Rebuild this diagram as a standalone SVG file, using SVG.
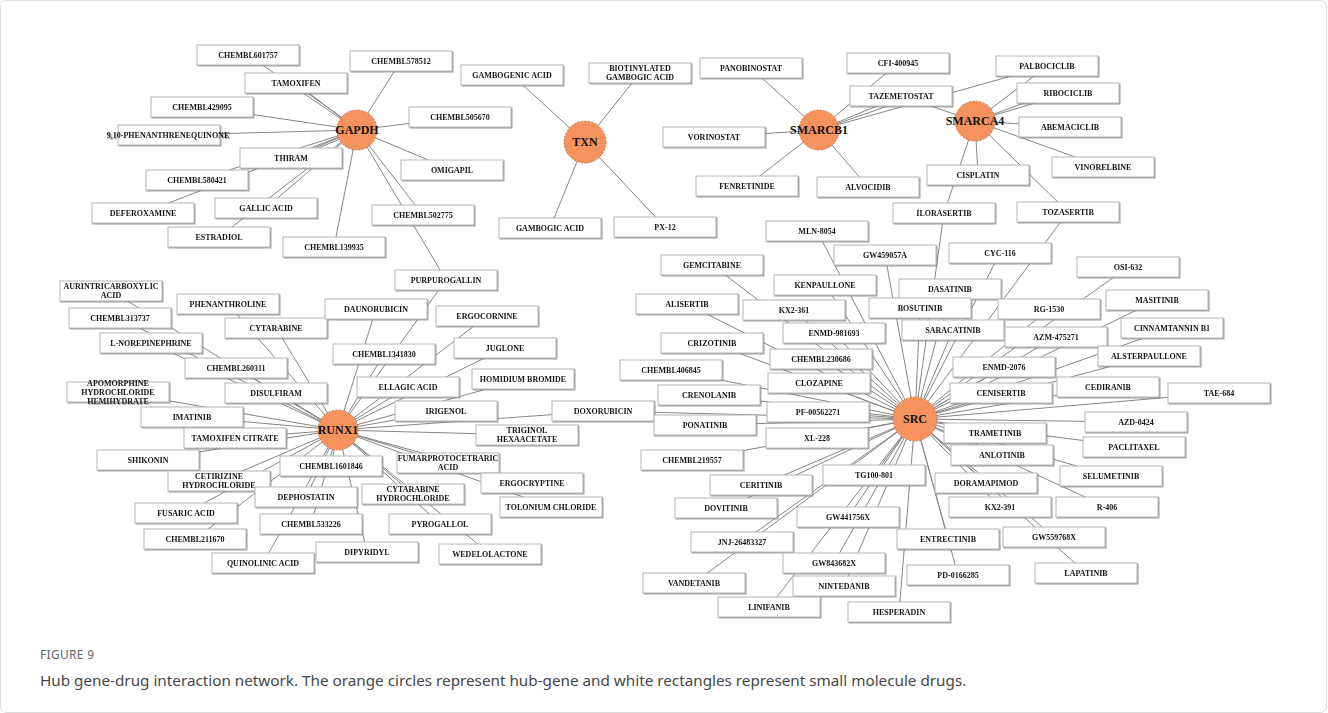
<svg xmlns="http://www.w3.org/2000/svg" width="1328" height="713" viewBox="0 0 1328 713">
<defs>
<style>
.d rect{fill:#fff;stroke:#b4b4b4;stroke-width:1}
.d text{font-family:"Liberation Serif","Times New Roman",serif;font-weight:bold;font-size:8px;fill:#151515;text-anchor:middle}
.h circle{fill:#F5925E;stroke:#b86a48;stroke-width:0.8;stroke-dasharray:2 1.5}
.h text{font-family:"Liberation Serif","Times New Roman",serif;font-weight:bold;font-size:12px;fill:#111;text-anchor:middle}
#edges line{stroke:#858585;stroke-width:1}
.cap1{font-family:"Noto Sans","Open Sans",sans-serif;font-size:12px;fill:#666;letter-spacing:0.3px}
.cap2{font-family:"Noto Sans","Open Sans",sans-serif;font-size:15.25px;fill:#474747}
</style>
<filter id="sh" x="-5%" y="-10%" width="115%" height="140%"><feDropShadow dx="1" dy="1" stdDeviation="0.4" flood-color="#777" flood-opacity="0.7"/></filter>
</defs>
<rect x="0.5" y="0.5" width="1326" height="712" rx="6" fill="#fff" stroke="#dcdcdc"/>
<g id="edges">
<line x1="357" y1="130" x2="248" y2="55"/><line x1="357" y1="130" x2="296" y2="83"/><line x1="357" y1="128" x2="293" y2="83"/>
<line x1="357" y1="130" x2="202" y2="107"/><line x1="357" y1="130" x2="169" y2="135"/>
<line x1="357" y1="130" x2="291" y2="158"/><line x1="357" y1="132" x2="294" y2="158"/><line x1="357" y1="130" x2="197" y2="180"/>
<line x1="357" y1="130" x2="143" y2="213"/><line x1="357" y1="130" x2="266" y2="208"/><line x1="357" y1="130" x2="219" y2="237"/>
<line x1="357" y1="130" x2="334" y2="247"/><line x1="357" y1="130" x2="401" y2="61"/><line x1="357" y1="130" x2="460" y2="117"/>
<line x1="357" y1="130" x2="452" y2="170"/><line x1="357" y1="130" x2="423" y2="215"/><line x1="357" y1="130" x2="446" y2="280"/>
<line x1="585" y1="142" x2="512" y2="75"/><line x1="585" y1="142" x2="640" y2="73"/><line x1="585" y1="142" x2="550" y2="228"/><line x1="585" y1="142" x2="665" y2="227"/>
<line x1="819" y1="130" x2="751" y2="68"/><line x1="819" y1="130" x2="898" y2="63"/><line x1="819" y1="130" x2="901" y2="96"/><line x1="819" y1="130" x2="905" y2="100"/>
<line x1="819" y1="130" x2="714" y2="137"/><line x1="819" y1="130" x2="747" y2="186"/><line x1="819" y1="130" x2="868" y2="187"/><line x1="819" y1="130" x2="1047" y2="66"/>
<line x1="975" y1="121" x2="1047" y2="66"/><line x1="975" y1="121" x2="1068" y2="93"/><line x1="975" y1="121" x2="1060" y2="90"/><line x1="975" y1="121" x2="1070" y2="127"/>
<line x1="975" y1="121" x2="1103" y2="167"/><line x1="975" y1="121" x2="978" y2="175"/><line x1="975" y1="121" x2="944" y2="213"/><line x1="975" y1="121" x2="1068" y2="212"/><line x1="975" y1="121" x2="901" y2="96"/>
<line x1="915" y1="419" x2="817" y2="231"/><line x1="915" y1="419" x2="885" y2="255"/><line x1="915" y1="419" x2="1000" y2="253"/><line x1="915" y1="419" x2="1128" y2="267"/>
<line x1="915" y1="419" x2="712" y2="265"/><line x1="915" y1="419" x2="825" y2="285"/><line x1="915" y1="419" x2="950" y2="289"/><line x1="915" y1="419" x2="1157" y2="300"/>
<line x1="915" y1="419" x2="687" y2="304"/><line x1="915" y1="419" x2="794" y2="310"/><line x1="915" y1="419" x2="920" y2="308"/><line x1="915" y1="419" x2="1049" y2="309"/>
<line x1="915" y1="419" x2="1172" y2="328"/><line x1="915" y1="419" x2="834" y2="333"/><line x1="915" y1="419" x2="953" y2="330"/><line x1="915" y1="419" x2="1056" y2="337"/>
<line x1="915" y1="419" x2="712" y2="343"/><line x1="915" y1="419" x2="1149" y2="356"/><line x1="915" y1="419" x2="821" y2="359"/><line x1="915" y1="419" x2="1004" y2="367"/>
<line x1="915" y1="419" x2="671" y2="370"/><line x1="915" y1="419" x2="819" y2="383"/><line x1="915" y1="419" x2="1108" y2="387"/><line x1="915" y1="419" x2="1001" y2="393"/>
<line x1="915" y1="419" x2="1219" y2="393"/><line x1="915" y1="419" x2="709" y2="395"/><line x1="915" y1="419" x2="818" y2="412"/><line x1="915" y1="419" x2="603" y2="411"/>
<line x1="915" y1="419" x2="1136" y2="422"/><line x1="915" y1="419" x2="705" y2="425"/><line x1="915" y1="419" x2="995" y2="433"/><line x1="915" y1="419" x2="817" y2="438"/>
<line x1="915" y1="419" x2="1134" y2="447"/><line x1="915" y1="419" x2="1002" y2="455"/><line x1="915" y1="419" x2="692" y2="460"/><line x1="915" y1="419" x2="874" y2="475"/>
<line x1="915" y1="419" x2="1111" y2="476"/><line x1="915" y1="419" x2="986" y2="483"/><line x1="915" y1="419" x2="761" y2="485"/><line x1="915" y1="419" x2="1000" y2="507"/>
<line x1="915" y1="419" x2="1107" y2="507"/><line x1="915" y1="419" x2="726" y2="508"/><line x1="915" y1="419" x2="848" y2="517"/><line x1="915" y1="419" x2="1054" y2="537"/>
<line x1="915" y1="419" x2="948" y2="539"/><line x1="915" y1="419" x2="742" y2="542"/><line x1="915" y1="419" x2="834" y2="563"/><line x1="915" y1="419" x2="958" y2="575"/>
<line x1="915" y1="419" x2="1086" y2="573"/><line x1="915" y1="419" x2="694" y2="583"/><line x1="915" y1="419" x2="844" y2="586"/><line x1="915" y1="419" x2="769" y2="607"/>
<line x1="915" y1="419" x2="899" y2="612"/><line x1="915" y1="419" x2="944" y2="213"/><line x1="915" y1="419" x2="1068" y2="212"/>
<line x1="338" y1="430" x2="111" y2="291"/><line x1="338" y1="430" x2="228" y2="304"/><line x1="338" y1="430" x2="120" y2="318"/><line x1="338" y1="430" x2="276" y2="328"/>
<line x1="338" y1="430" x2="376" y2="309"/><line x1="338" y1="430" x2="151" y2="343"/><line x1="338" y1="430" x2="384" y2="354"/><line x1="338" y1="430" x2="236" y2="368"/>
<line x1="338" y1="430" x2="487" y2="316"/><line x1="338" y1="430" x2="505" y2="348"/><line x1="338" y1="430" x2="408" y2="387"/><line x1="338" y1="430" x2="523" y2="379"/>
<line x1="338" y1="430" x2="118" y2="392"/><line x1="338" y1="430" x2="276" y2="393"/><line x1="338" y1="430" x2="192" y2="417"/><line x1="338" y1="430" x2="446" y2="411"/>
<line x1="338" y1="430" x2="527" y2="435"/><line x1="338" y1="430" x2="235" y2="438"/><line x1="338" y1="430" x2="148" y2="460"/><line x1="338" y1="430" x2="331" y2="466"/>
<line x1="338" y1="430" x2="448" y2="463"/><line x1="338" y1="430" x2="219" y2="481"/><line x1="338" y1="430" x2="532" y2="483"/><line x1="338" y1="430" x2="413" y2="494"/>
<line x1="338" y1="430" x2="306" y2="497"/><line x1="338" y1="430" x2="551" y2="507"/><line x1="338" y1="430" x2="186" y2="513"/><line x1="338" y1="430" x2="311" y2="524"/>
<line x1="338" y1="430" x2="440" y2="524"/><line x1="338" y1="430" x2="195" y2="539"/><line x1="338" y1="430" x2="367" y2="552"/><line x1="338" y1="430" x2="263" y2="563"/>
<line x1="338" y1="430" x2="490" y2="554"/><line x1="338" y1="430" x2="446" y2="280"/><line x1="338" y1="430" x2="603" y2="411"/>
</g>
<g id="drugs" filter="url(#sh)">
<g id="n-chembl601757" class="d"><rect x="197" y="45" width="102" height="20"/><text x="248" y="58">CHEMBL601757</text></g>
<g id="n-tamoxifen" class="d"><rect x="245" y="73" width="102" height="20"/><text x="296" y="86">TAMOXIFEN</text></g>
<g id="n-chembl429095" class="d"><rect x="151" y="97" width="102" height="20"/><text x="202" y="110">CHEMBL429095</text></g>
<g id="n-phenanthrenequinone" class="d"><rect x="118" y="125" width="102" height="20"/><text x="168" y="138">9,10-PHENANTHRENEQUINONE</text></g>
<g id="n-thiram" class="d"><rect x="240" y="148" width="102" height="20"/><text x="291" y="161">THIRAM</text></g>
<g id="n-chembl580421" class="d"><rect x="146" y="170" width="102" height="20"/><text x="197" y="183">CHEMBL580421</text></g>
<g id="n-deferoxamine" class="d"><rect x="92" y="203" width="102" height="20"/><text x="143" y="216">DEFEROXAMINE</text></g>
<g id="n-gallic-acid" class="d"><rect x="215" y="198" width="102" height="20"/><text x="266" y="211">GALLIC ACID</text></g>
<g id="n-estradiol" class="d"><rect x="168" y="227" width="102" height="20"/><text x="219" y="240">ESTRADIOL</text></g>
<g id="n-chembl139935" class="d"><rect x="283" y="237" width="102" height="20"/><text x="334" y="250">CHEMBL139935</text></g>
<g id="n-chembl578512" class="d"><rect x="350" y="51" width="102" height="20"/><text x="401" y="64">CHEMBL578512</text></g>
<g id="n-chembl505670" class="d"><rect x="409" y="107" width="102" height="20"/><text x="460" y="120">CHEMBL505670</text></g>
<g id="n-omigapil" class="d"><rect x="401" y="160" width="102" height="20"/><text x="452" y="173">OMIGAPIL</text></g>
<g id="n-chembl502775" class="d"><rect x="372" y="205" width="102" height="20"/><text x="423" y="218">CHEMBL502775</text></g>
<g id="n-purpurogallin" class="d"><rect x="395" y="270" width="102" height="20"/><text x="446" y="283">PURPUROGALLIN</text></g>
<g id="n-gambogenic-acid" class="d"><rect x="461" y="65" width="102" height="20"/><text x="512" y="78">GAMBOGENIC ACID</text></g>
<g id="n-biotinylated" class="d"><rect x="589" y="63" width="102" height="20"/><text x="640" y="71">BIOTINYLATED</text><text x="640" y="80">GAMBOGIC ACID</text></g>
<g id="n-gambogic-acid" class="d"><rect x="499" y="218" width="102" height="20"/><text x="550" y="231">GAMBOGIC ACID</text></g>
<g id="n-px12" class="d"><rect x="614" y="217" width="102" height="20"/><text x="665" y="230">PX-12</text></g>
<g id="n-panobinostat" class="d"><rect x="700" y="58" width="102" height="20"/><text x="751" y="71">PANOBINOSTAT</text></g>
<g id="n-cfi400945" class="d"><rect x="847" y="53" width="102" height="20"/><text x="898" y="66">CFI-400945</text></g>
<g id="n-tazemetostat" class="d"><rect x="850" y="86" width="102" height="20"/><text x="901" y="99">TAZEMETOSTAT</text></g>
<g id="n-vorinostat" class="d"><rect x="663" y="127" width="102" height="20"/><text x="714" y="140">VORINOSTAT</text></g>
<g id="n-fenretinide" class="d"><rect x="696" y="176" width="102" height="20"/><text x="747" y="189">FENRETINIDE</text></g>
<g id="n-alvocidib" class="d"><rect x="817" y="177" width="102" height="20"/><text x="868" y="190">ALVOCIDIB</text></g>
<g id="n-palbociclib" class="d"><rect x="996" y="56" width="102" height="20"/><text x="1047" y="69">PALBOCICLIB</text></g>
<g id="n-ribociclib" class="d"><rect x="1017" y="83" width="102" height="20"/><text x="1068" y="96">RIBOCICLIB</text></g>
<g id="n-abemaciclib" class="d"><rect x="1019" y="117" width="102" height="20"/><text x="1070" y="130">ABEMACICLIB</text></g>
<g id="n-vinorelbine" class="d"><rect x="1052" y="157" width="102" height="20"/><text x="1103" y="170">VINORELBINE</text></g>
<g id="n-cisplatin" class="d"><rect x="927" y="165" width="102" height="20"/><text x="978" y="178">CISPLATIN</text></g>
<g id="n-ilorasertib" class="d"><rect x="893" y="203" width="102" height="20"/><text x="944" y="216">ILORASERTIB</text></g>
<g id="n-tozasertib" class="d"><rect x="1017" y="202" width="102" height="20"/><text x="1068" y="215">TOZASERTIB</text></g>
<g id="n-mln8054" class="d"><rect x="766" y="221" width="102" height="20"/><text x="817" y="234">MLN-8054</text></g>
<g id="n-gw459057a" class="d"><rect x="834" y="245" width="102" height="20"/><text x="885" y="258">GW459057A</text></g>
<g id="n-cyc116" class="d"><rect x="949" y="243" width="102" height="20"/><text x="1000" y="256">CYC-116</text></g>
<g id="n-osi632" class="d"><rect x="1077" y="257" width="102" height="20"/><text x="1128" y="270">OSI-632</text></g>
<g id="n-gemcitabine" class="d"><rect x="661" y="255" width="102" height="20"/><text x="712" y="268">GEMCITABINE</text></g>
<g id="n-kenpaullone" class="d"><rect x="774" y="275" width="102" height="20"/><text x="825" y="288">KENPAULLONE</text></g>
<g id="n-dasatinib" class="d"><rect x="899" y="279" width="102" height="20"/><text x="950" y="292">DASATINIB</text></g>
<g id="n-masitinib" class="d"><rect x="1106" y="290" width="102" height="20"/><text x="1157" y="303">MASITINIB</text></g>
<g id="n-alisertib" class="d"><rect x="636" y="294" width="102" height="20"/><text x="687" y="307">ALISERTIB</text></g>
<g id="n-kx2361" class="d"><rect x="743" y="300" width="102" height="20"/><text x="794" y="313">KX2-361</text></g>
<g id="n-bosutinib" class="d"><rect x="869" y="298" width="102" height="20"/><text x="920" y="311">BOSUTINIB</text></g>
<g id="n-rg1530" class="d"><rect x="998" y="299" width="102" height="20"/><text x="1049" y="312">RG-1530</text></g>
<g id="n-cinnamtannin" class="d"><rect x="1121" y="318" width="102" height="20"/><text x="1172" y="331">CINNAMTANNIN B1</text></g>
<g id="n-enmd981693" class="d"><rect x="783" y="323" width="102" height="20"/><text x="834" y="336">ENMD-981693</text></g>
<g id="n-saracatinib" class="d"><rect x="902" y="320" width="102" height="20"/><text x="953" y="333">SARACATINIB</text></g>
<g id="n-azm475271" class="d"><rect x="1005" y="327" width="102" height="20"/><text x="1056" y="340">AZM-475271</text></g>
<g id="n-crizotinib" class="d"><rect x="661" y="333" width="102" height="20"/><text x="712" y="346">CRIZOTINIB</text></g>
<g id="n-alsterpaullone" class="d"><rect x="1098" y="346" width="102" height="20"/><text x="1149" y="359">ALSTERPAULLONE</text></g>
<g id="n-chembl230686" class="d"><rect x="770" y="349" width="102" height="20"/><text x="821" y="362">CHEMBL230686</text></g>
<g id="n-enmd2076" class="d"><rect x="953" y="357" width="102" height="20"/><text x="1004" y="370">ENMD-2076</text></g>
<g id="n-chembl406845" class="d"><rect x="620" y="360" width="102" height="20"/><text x="671" y="373">CHEMBL406845</text></g>
<g id="n-clozapine" class="d"><rect x="768" y="373" width="102" height="20"/><text x="819" y="386">CLOZAPINE</text></g>
<g id="n-cediranib" class="d"><rect x="1057" y="377" width="102" height="20"/><text x="1108" y="390">CEDIRANIB</text></g>
<g id="n-cenisertib" class="d"><rect x="950" y="383" width="102" height="20"/><text x="1001" y="396">CENISERTIB</text></g>
<g id="n-tae684" class="d"><rect x="1168" y="383" width="102" height="20"/><text x="1219" y="396">TAE-684</text></g>
<g id="n-crenolanib" class="d"><rect x="658" y="385" width="102" height="20"/><text x="709" y="398">CRENOLANIB</text></g>
<g id="n-pf00562271" class="d"><rect x="767" y="402" width="102" height="20"/><text x="818" y="415">PF-00562271</text></g>
<g id="n-doxorubicin" class="d"><rect x="552" y="401" width="102" height="20"/><text x="603" y="414">DOXORUBICIN</text></g>
<g id="n-azd0424" class="d"><rect x="1085" y="412" width="102" height="20"/><text x="1136" y="425">AZD-0424</text></g>
<g id="n-ponatinib" class="d"><rect x="654" y="415" width="102" height="20"/><text x="705" y="428">PONATINIB</text></g>
<g id="n-trametinib" class="d"><rect x="944" y="423" width="102" height="20"/><text x="995" y="436">TRAMETINIB</text></g>
<g id="n-xl228" class="d"><rect x="766" y="428" width="102" height="20"/><text x="817" y="441">XL-228</text></g>
<g id="n-paclitaxel" class="d"><rect x="1083" y="437" width="102" height="20"/><text x="1134" y="450">PACLITAXEL</text></g>
<g id="n-anlotinib" class="d"><rect x="951" y="445" width="102" height="20"/><text x="1002" y="458">ANLOTINIB</text></g>
<g id="n-chembl219557" class="d"><rect x="641" y="450" width="102" height="20"/><text x="692" y="463">CHEMBL219557</text></g>
<g id="n-tg100801" class="d"><rect x="823" y="465" width="102" height="20"/><text x="874" y="478">TG100-801</text></g>
<g id="n-selumetinib" class="d"><rect x="1060" y="466" width="102" height="20"/><text x="1111" y="479">SELUMETINIB</text></g>
<g id="n-doramapimod" class="d"><rect x="935" y="473" width="102" height="20"/><text x="986" y="486">DORAMAPIMOD</text></g>
<g id="n-ceritinib" class="d"><rect x="710" y="475" width="102" height="20"/><text x="761" y="488">CERITINIB</text></g>
<g id="n-kx2391" class="d"><rect x="949" y="497" width="102" height="20"/><text x="1000" y="510">KX2-391</text></g>
<g id="n-r406" class="d"><rect x="1056" y="497" width="102" height="20"/><text x="1107" y="510">R-406</text></g>
<g id="n-dovitinib" class="d"><rect x="675" y="498" width="102" height="20"/><text x="726" y="511">DOVITINIB</text></g>
<g id="n-gw441756x" class="d"><rect x="797" y="507" width="102" height="20"/><text x="848" y="520">GW441756X</text></g>
<g id="n-gw559768x" class="d"><rect x="1003" y="527" width="102" height="20"/><text x="1054" y="540">GW559768X</text></g>
<g id="n-entrectinib" class="d"><rect x="897" y="529" width="102" height="20"/><text x="948" y="542">ENTRECTINIB</text></g>
<g id="n-jnj26483327" class="d"><rect x="691" y="532" width="102" height="20"/><text x="742" y="545">JNJ-26483327</text></g>
<g id="n-gw843682x" class="d"><rect x="783" y="553" width="102" height="20"/><text x="834" y="566">GW843682X</text></g>
<g id="n-pd0166285" class="d"><rect x="907" y="565" width="102" height="20"/><text x="958" y="578">PD-0166285</text></g>
<g id="n-lapatinib" class="d"><rect x="1035" y="563" width="102" height="20"/><text x="1086" y="576">LAPATINIB</text></g>
<g id="n-vandetanib" class="d"><rect x="643" y="573" width="102" height="20"/><text x="694" y="586">VANDETANIB</text></g>
<g id="n-nintedanib" class="d"><rect x="793" y="576" width="102" height="20"/><text x="844" y="589">NINTEDANIB</text></g>
<g id="n-linifanib" class="d"><rect x="718" y="597" width="102" height="20"/><text x="769" y="610">LINIFANIB</text></g>
<g id="n-hesperadin" class="d"><rect x="848" y="602" width="102" height="20"/><text x="899" y="615">HESPERADIN</text></g>
<g id="n-aurintricarboxylic" class="d"><rect x="60" y="281" width="102" height="20"/><text x="111" y="289">AURINTRICARBOXYLIC</text><text x="111" y="298">ACID</text></g>
<g id="n-phenanthroline" class="d"><rect x="177" y="294" width="102" height="20"/><text x="228" y="307">PHENANTHROLINE</text></g>
<g id="n-chembl313737" class="d"><rect x="69" y="308" width="102" height="20"/><text x="120" y="321">CHEMBL313737</text></g>
<g id="n-cytarabine" class="d"><rect x="225" y="318" width="102" height="20"/><text x="276" y="331">CYTARABINE</text></g>
<g id="n-daunorubicin" class="d"><rect x="325" y="299" width="102" height="20"/><text x="376" y="312">DAUNORUBICIN</text></g>
<g id="n-lnorepinephrine" class="d"><rect x="100" y="333" width="102" height="20"/><text x="151" y="346">L-NOREPINEPHRINE</text></g>
<g id="n-chembl1341830" class="d"><rect x="333" y="344" width="102" height="20"/><text x="384" y="357">CHEMBL1341830</text></g>
<g id="n-chembl260311" class="d"><rect x="185" y="358" width="102" height="20"/><text x="236" y="371">CHEMBL260311</text></g>
<g id="n-ergocornine" class="d"><rect x="436" y="306" width="102" height="20"/><text x="487" y="319">ERGOCORNINE</text></g>
<g id="n-juglone" class="d"><rect x="454" y="338" width="102" height="20"/><text x="505" y="351">JUGLONE</text></g>
<g id="n-ellagic-acid" class="d"><rect x="357" y="377" width="102" height="20"/><text x="408" y="390">ELLAGIC ACID</text></g>
<g id="n-homidium" class="d"><rect x="472" y="369" width="102" height="20"/><text x="523" y="382">HOMIDIUM BROMIDE</text></g>
<g id="n-apomorphine" class="d"><rect x="67" y="382" width="102" height="20"/><text x="118" y="386">APOMORPHINE</text><text x="118" y="395">HYDROCHLORIDE</text><text x="118" y="404">HEMIHYDRATE</text></g>
<g id="n-disulfiram" class="d"><rect x="225" y="383" width="102" height="20"/><text x="276" y="396">DISULFIRAM</text></g>
<g id="n-imatinib" class="d"><rect x="141" y="407" width="102" height="20"/><text x="192" y="420">IMATINIB</text></g>
<g id="n-irigenol" class="d"><rect x="395" y="401" width="102" height="20"/><text x="446" y="414">IRIGENOL</text></g>
<g id="n-triginol" class="d"><rect x="476" y="425" width="102" height="20"/><text x="527" y="433">TRIGINOL</text><text x="527" y="442">HEXAACETATE</text></g>
<g id="n-tamoxifen-citrate" class="d"><rect x="184" y="428" width="102" height="20"/><text x="235" y="441">TAMOXIFEN CITRATE</text></g>
<g id="n-shikonin" class="d"><rect x="97" y="450" width="102" height="20"/><text x="148" y="463">SHIKONIN</text></g>
<g id="n-chembl1601846" class="d"><rect x="280" y="456" width="102" height="20"/><text x="331" y="469">CHEMBL1601846</text></g>
<g id="n-fumarprotocetraric" class="d"><rect x="397" y="453" width="102" height="20"/><text x="448" y="461">FUMARPROTOCETRARIC</text><text x="448" y="470">ACID</text></g>
<g id="n-cetirizine" class="d"><rect x="168" y="471" width="102" height="20"/><text x="219" y="479">CETIRIZINE</text><text x="219" y="488">HYDROCHLORIDE</text></g>
<g id="n-ergocryptine" class="d"><rect x="481" y="473" width="102" height="20"/><text x="532" y="486">ERGOCRYPTINE</text></g>
<g id="n-cytarabine-hcl" class="d"><rect x="362" y="484" width="102" height="20"/><text x="413" y="492">CYTARABINE</text><text x="413" y="501">HYDROCHLORIDE</text></g>
<g id="n-dephostatin" class="d"><rect x="255" y="487" width="102" height="20"/><text x="306" y="500">DEPHOSTATIN</text></g>
<g id="n-tolonium" class="d"><rect x="500" y="497" width="102" height="20"/><text x="551" y="510">TOLONIUM CHLORIDE</text></g>
<g id="n-fusaric-acid" class="d"><rect x="135" y="503" width="102" height="20"/><text x="186" y="516">FUSARIC ACID</text></g>
<g id="n-chembl533226" class="d"><rect x="260" y="514" width="102" height="20"/><text x="311" y="527">CHEMBL533226</text></g>
<g id="n-pyrogallol" class="d"><rect x="389" y="514" width="102" height="20"/><text x="440" y="527">PYROGALLOL</text></g>
<g id="n-chembl211670" class="d"><rect x="144" y="529" width="102" height="20"/><text x="195" y="542">CHEMBL211670</text></g>
<g id="n-dipyridyl" class="d"><rect x="316" y="542" width="102" height="20"/><text x="367" y="555">DIPYRIDYL</text></g>
<g id="n-quinolinic-acid" class="d"><rect x="212" y="553" width="102" height="20"/><text x="263" y="566">QUINOLINIC ACID</text></g>
<g id="n-wedelolactone" class="d"><rect x="439" y="544" width="102" height="20"/><text x="490" y="557">WEDELOLACTONE</text></g>
</g>
<g id="hubs">
<g id="h-gapdh" class="h"><circle cx="357" cy="130" r="20"/><text x="357" y="134">GAPDH</text></g>
<g id="h-txn" class="h"><circle cx="585" cy="142" r="21"/><text x="585" y="146">TXN</text></g>
<g id="h-smarcb1" class="h"><circle cx="819" cy="130" r="20"/><text x="819" y="134">SMARCB1</text></g>
<g id="h-smarca4" class="h"><circle cx="975" cy="121" r="20"/><text x="975" y="125">SMARCA4</text></g>
<g id="h-src" class="h"><circle cx="915" cy="419" r="22"/><text x="915" y="423">SRC</text></g>
<g id="h-runx1" class="h"><circle cx="338" cy="430" r="20"/><text x="338" y="434">RUNX1</text></g>
</g>
<text class="cap1" x="40" y="659">FIGURE 9</text>
<text class="cap2" x="40" y="686">Hub gene-drug interaction network. The orange circles represent hub-gene and white rectangles represent small molecule drugs.</text>
</svg>
